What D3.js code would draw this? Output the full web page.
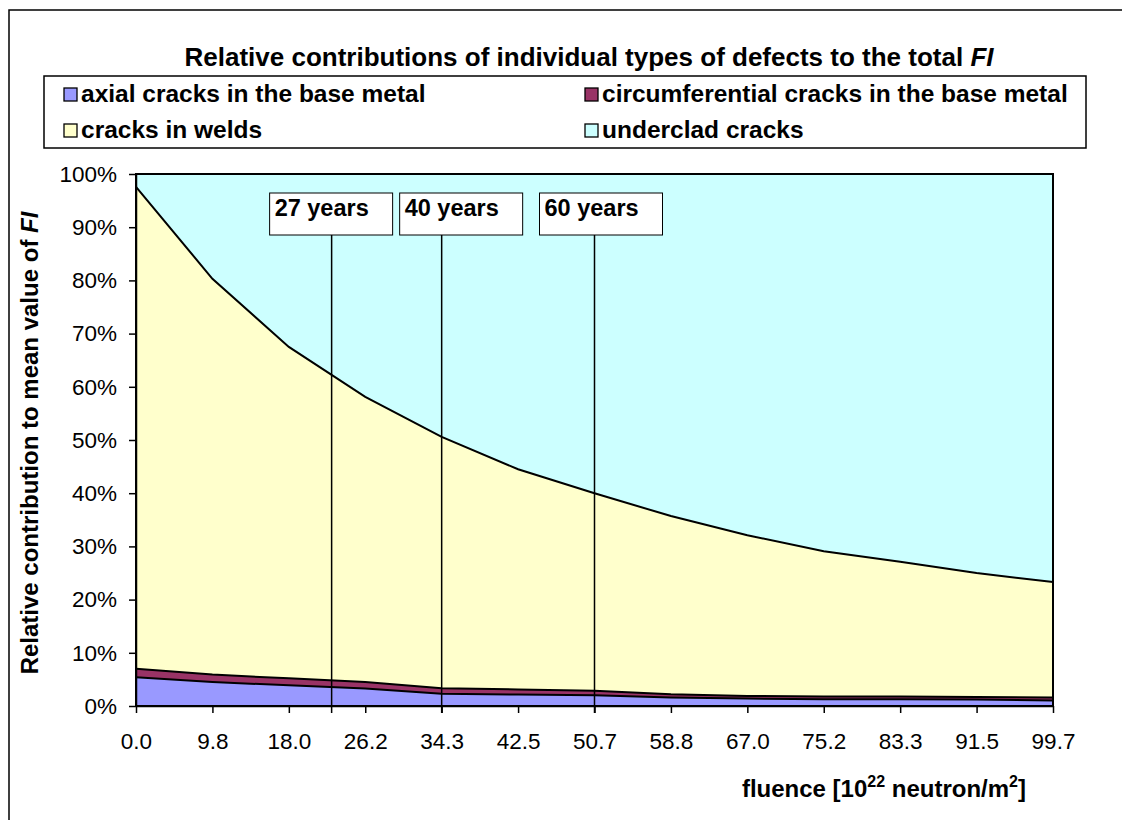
<!DOCTYPE html>
<html>
<head>
<meta charset="utf-8">
<script src="https://cdn.jsdelivr.net/npm/d3@7"></script>
<style>
  html, body { margin: 0; padding: 0; background: #fff; }
  svg { display: block; font-family: Arial, "Liberation Sans", Helvetica, sans-serif; }
</style>
</head>
<body>
<svg id="chart" width="1122" height="820"></svg>
<script>
// ---------------- DATA ----------------
const categories = ["0.0","9.8","18.0","26.2","34.3","42.5","50.7","58.8","67.0","75.2","83.3","91.5","99.7"];
const axialCracks          = [5.4, 4.5, 3.9, 3.3, 2.3, 2.15, 2.0, 1.6, 1.4, 1.25, 1.25, 1.2, 1.05];
const circumferentialCracks= [1.6, 1.4, 1.3, 1.2, 1.05, 0.95, 0.85, 0.6, 0.5, 0.55, 0.55, 0.5, 0.55];
const weldCracks           = [90.6, 74.4, 62.3, 53.6, 47.25, 41.4, 37.15, 33.5, 30.2, 27.3, 25.3, 23.3, 21.7];
const undercladCracks      = [2.4, 19.7, 32.5, 41.9, 49.4, 55.5, 60.0, 64.3, 67.9, 70.9, 72.9, 75.0, 76.7];
const seriesNames = ["axial cracks in the base metal","circumferential cracks in the base metal","cracks in welds","underclad cracks"];
const seriesColors = ["#9999FF","#993366","#FFFFCC","#CCFFFF"];
const yTickValues = [0,0.1,0.2,0.3,0.4,0.5,0.6,0.7,0.8,0.9,1.0];
// annotation positions on the category axis (category index units)
const annotationLabels = ["27 years","40 years","60 years"];
const annotationAt     = [2.56, 4.0, 6.0];

// ---------------- LAYOUT ----------------
const plot = {left:136, right:1053, top:174, bottom:706};
const boxLayout = { top:193, height:42, width:123, dx:[-62,-42,-55] };

const svg = d3.select("#chart");

// outer chart border (cut off at right/bottom as in reference)
svg.append("rect").attr("x",9).attr("y",10).attr("width",1200).attr("height",900)
  .attr("fill","#fff").attr("stroke","#000").attr("stroke-width",1.5);

// title
const title = svg.append("text").attr("x",589).attr("y",66).attr("text-anchor","middle")
  .attr("font-size",26).attr("font-weight","bold");
title.append("tspan").text("Relative contributions of individual types of defects to the total ");
title.append("tspan").attr("font-style","italic").text("FI");

// legend
const lg = svg.append("g");
lg.append("rect").attr("x",44).attr("y",76).attr("width",1042).attr("height",72)
  .attr("fill","#fff").attr("stroke","#000").attr("stroke-width",1.5);
const legendPos = [[64,88],[585,88],[64,124],[585,124]];
seriesNames.forEach((n,i)=>{
  const [lx,ly] = legendPos[i];
  lg.append("rect").attr("x",lx).attr("y",ly).attr("width",13).attr("height",13)
    .attr("fill",seriesColors[i]).attr("stroke","#000").attr("stroke-width",1.3);
  lg.append("text").attr("x",lx+17).attr("y",ly+14).attr("font-size",24.5).attr("font-weight","bold").text(n);
});

// scales
const x = d3.scaleLinear().domain([0, categories.length-1]).range([plot.left, plot.right]);
const y = d3.scaleLinear().domain([0,1]).range([plot.bottom, plot.top]);

// stacked data
const rows = categories.map((c,i)=>({i, s0:axialCracks[i], s1:circumferentialCracks[i], s2:weldCracks[i], s3:undercladCracks[i]}));
const stack = d3.stack().keys(["s0","s1","s2","s3"]).offset(d3.stackOffsetExpand);
const layers = stack(rows);

const area = d3.area().x(d=>x(d.data.i)).y0(d=>y(d[0])).y1(d=>y(d[1]));
const line = d3.line().x(d=>x(d.data.i)).y(d=>y(d[1]));

svg.append("g").selectAll("path.area").data(layers).join("path")
  .attr("class","area").attr("d",area).attr("fill",(d,i)=>seriesColors[i]).attr("stroke","none");
svg.append("g").selectAll("path.edge").data(layers).join("path")
  .attr("class","edge").attr("d",line).attr("fill","none").attr("stroke","#000").attr("stroke-width",2);

// plot border
svg.append("rect").attr("x",plot.left).attr("y",plot.top).attr("width",plot.right-plot.left).attr("height",plot.bottom-plot.top)
  .attr("fill","none").attr("stroke","#000").attr("stroke-width",2);

// axes
const yAxis = svg.append("g").attr("transform",`translate(${plot.left},0)`)
  .call(d3.axisLeft(y).tickValues(yTickValues).tickFormat(d3.format(".0%")).tickSize(7).tickPadding(12).tickSizeOuter(0));
yAxis.selectAll("text").attr("font-size",22.5).attr("fill","#000").attr("font-family","Arial, 'Liberation Sans', sans-serif");
yAxis.selectAll("line,path").attr("stroke","#000").attr("stroke-width",1.5);

const xAxis = svg.append("g").attr("transform",`translate(0,${plot.bottom})`)
  .call(d3.axisBottom(x).tickValues(d3.range(categories.length)).tickFormat(i=>categories[i]).tickSize(7).tickPadding(20).tickSizeOuter(0));
xAxis.selectAll("text").attr("font-size",22.5).attr("fill","#000").attr("font-family","Arial, 'Liberation Sans', sans-serif");
xAxis.selectAll("line,path").attr("stroke","#000").attr("stroke-width",1.5);

// annotations
annotationLabels.forEach((lab,k)=>{
  const lx = x(annotationAt[k]);
  svg.append("line").attr("x1",lx).attr("x2",lx).attr("y1",boxLayout.top+boxLayout.height).attr("y2",plot.bottom+7)
    .attr("stroke","#000").attr("stroke-width",1.5);
  const bx = lx + boxLayout.dx[k];
  svg.append("rect").attr("x",bx).attr("y",boxLayout.top).attr("width",boxLayout.width).attr("height",boxLayout.height)
    .attr("fill","#fff").attr("stroke","#000").attr("stroke-width",1);
  svg.append("text").attr("x",bx+5).attr("y",boxLayout.top+23).attr("font-size",23.5).attr("font-weight","bold").text(lab);
});

// axis titles
const yt = svg.append("text").attr("transform","translate(38,443) rotate(-90)").attr("text-anchor","middle")
  .attr("font-size",24).attr("font-weight","bold");
yt.append("tspan").text("Relative contribution to mean value of ");
yt.append("tspan").attr("font-style","italic").text("FI");

const xt = svg.append("text").attr("x",1026).attr("y",797).attr("text-anchor","end").attr("font-size",24).attr("font-weight","bold");
xt.append("tspan").text("fluence [10");
xt.append("tspan").attr("font-size",16).attr("dy",-10).text("22");
xt.append("tspan").attr("dy",10).text(" neutron/m");
xt.append("tspan").attr("font-size",16).attr("dy",-10).text("2");
xt.append("tspan").attr("dy",10).text("]");
</script>
</body>
</html>
